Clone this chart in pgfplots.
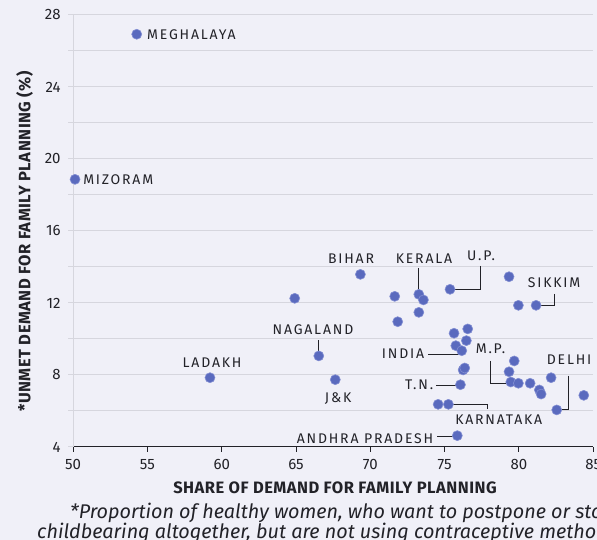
\documentclass[border=0pt]{standalone}
\usepackage{pgfplots}
\pgfplotsset{compat=1.18}
\usepackage{fontspec}
\setmainfont{Fira Sans}
\newfontfamily\labfont[LetterSpace=13]{Fira Sans}
\newfontfamily\titfont[LetterSpace=3]{Fira Sans}
\definecolor{bg}{RGB}{240,240,248}
\definecolor{gridc}{RGB}{214,214,222}
\definecolor{dotc}{RGB}{90,106,190}
\definecolor{dotr}{RGB}{130,142,210}
\definecolor{txt}{RGB}{34,34,40}
\begin{document}
\begin{tikzpicture}[x=1pt,y=1pt]
\fill[bg] (0,0) rectangle (597,540);
\begin{axis}[
  at={(73.1pt,93pt)}, anchor=south west,
  scale only axis, width=520.2pt, height=432pt,
  xmin=50, xmax=85, ymin=4, ymax=28,
  axis x line*=bottom, axis y line*=left,
  x axis line style={draw=txt, line width=1pt},
  y axis line style={draw=gridc, line width=1pt},
  xtick={50,55,...,85},
  ytick={4,6,...,28},
  yticklabels={4,,8,,12,,16,,20,,24,,28},
  ymajorgrids, major grid style={draw=gridc, line width=1pt},
  tick align=outside,
  major tick length=5pt,
  x tick style={draw=txt, line width=1pt},
  y tick style={draw=gridc, line width=1pt},
  /pgf/number format/assume math mode=true,
  ticklabel style={font=\fontsize{15}{15}\selectfont, text=txt},
  xticklabel style={yshift=-4pt},
  yticklabel style={xshift=-4pt},
  clip=false,
]
\addplot[only marks, mark=*, mark size=5pt,
  mark options={fill=dotc, draw=dotr, line width=0.6pt}] coordinates {
(54.28,26.93) (50.13,18.87) (59.21,7.85) (64.91,12.26) (66.53,9.06)
(67.64,7.74) (69.33,13.59) (71.64,12.37) (73.26,12.48) (73.57,12.17)
(73.26,11.48) (71.84,10.96) (75.36,12.76) (79.33,13.46) (79.96,11.87)
(81.15,11.87) (75.63,10.32) (76.55,10.56) (76.46,9.91) (75.75,9.63)
(76.15,9.35) (76.24,8.28) (76.35,8.39) (76.06,7.46) (79.68,8.78)
(79.33,8.18) (79.45,7.61) (79.96,7.54) (80.75,7.54) (82.16,7.85)
(81.37,7.17) (81.49,6.94) (82.54,6.06) (84.36,6.87) (74.56,6.37)
(75.25,6.37) (75.85,4.63)
};
\begin{scope}[every node/.style={font=\labfont\fontsize{14}{14}\selectfont, text=txt, inner sep=0pt}]
\node[anchor=west] at (axis cs:54.97,26.89) {MEGHALAYA};
\node[anchor=west] at (axis cs:50.67,18.83) {MIZORAM};
\node at (axis cs:68.70,14.44) {BIHAR};
\node at (axis cs:73.61,14.44) {KERALA};
\node at (axis cs:77.45,14.61) {U.P.};
\node at (axis cs:82.36,13.11) {SIKKIM};
\node at (axis cs:66.14,10.5) {NAGALAND};
\node at (axis cs:59.35,8.67) {LADAKH};
\node at (axis cs:72.20,9.21) {INDIA};
\node at (axis cs:78.09,9.44) {M.P.};
\node at (axis cs:73.28,7.44) {T.N.};
\node at (axis cs:67.83,6.71) {J\&K};
\node at (axis cs:83.37,8.83) {DELHI};
\node at (axis cs:78.64,5.5) {KARNATAKA};
\node at (axis cs:69.64,4.48) {ANDHRA PRADESH};
\end{scope}
\begin{scope}[draw=txt, line width=1.1pt]
\draw (axis cs:73.26,13.94) -- (axis cs:73.26,12.72);
\draw (axis cs:77.38,14.06) -- (axis cs:77.38,12.76) -- (axis cs:75.63,12.76);
\draw (axis cs:82.36,12.5) -- (axis cs:82.36,11.87) -- (axis cs:81.31,11.87);
\draw (axis cs:66.53,9.94) -- (axis cs:66.53,9.29);
\draw (axis cs:73.90,9.13) -- (axis cs:76.02,9.13);
\draw (axis cs:78.10,8.78) -- (axis cs:78.10,7.54) -- (axis cs:79.40,7.54);
\draw (axis cs:74.42,7.43) -- (axis cs:75.92,7.43);
\draw (axis cs:83.35,7.96) -- (axis cs:83.35,6.06) -- (axis cs:82.65,6.06);
\draw (axis cs:75.36,6.37) -- (axis cs:77.87,6.37) -- (axis cs:77.87,6.11);
\draw (axis cs:74.51,4.57) -- (axis cs:75.70,4.57);
\end{scope}
\end{axis}
\node[rotate=90, font=\titfont\bfseries\fontsize{16.5}{16.5}\selectfont, text=txt] at (24.5,298.5) {*UNMET DEMAND FOR FAMILY PLANNING (\%)};
\node[anchor=base, font=\titfont\bfseries\fontsize{16.5}{16.5}\selectfont, text=txt] at (335,46) {SHARE OF DEMAND FOR FAMILY PLANNING};
\node[anchor=base west, inner sep=0pt, font=\itshape\fontsize{19.8}{19.8}\selectfont, text=txt] at (70,21) {*Proportion of healthy women, who want to postpone or stop};
\node[anchor=base west, inner sep=0pt, font=\itshape\fontsize{19.8}{19.8}\selectfont, text=txt] at (37,1.5) {childbearing altogether, but are not using contraceptive methods};
\pgfresetboundingbox
\useasboundingbox (0,0) rectangle (597,540);
\end{tikzpicture}
\end{document}
